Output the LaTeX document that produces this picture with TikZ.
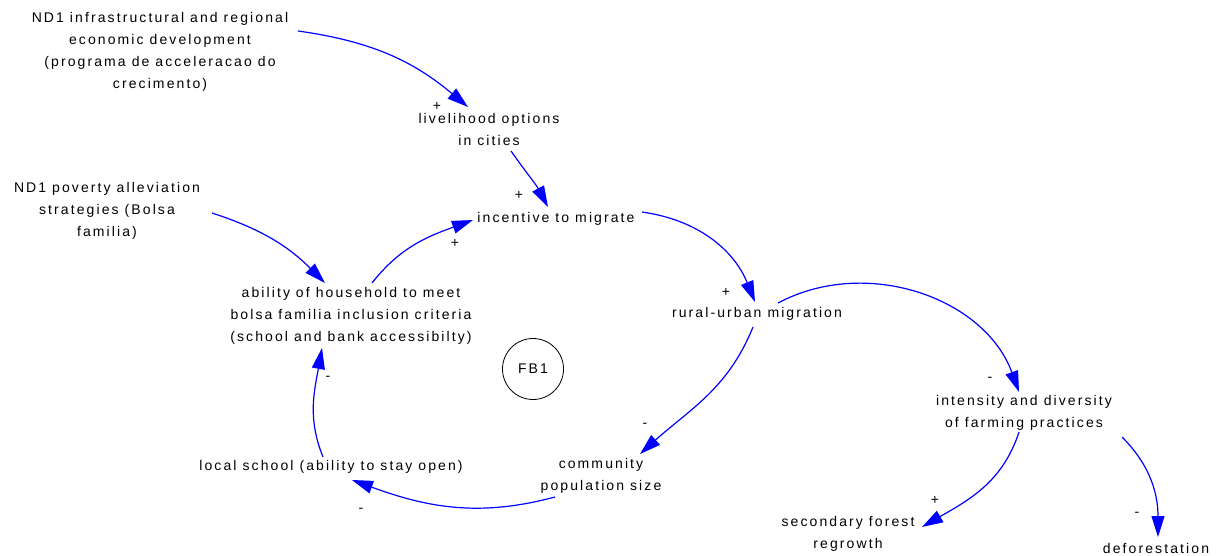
\documentclass[tikz,border=0pt]{standalone}
\usepackage{fontspec}
\setmainfont{Liberation Sans}[LetterSpace=15]
\usetikzlibrary{arrows.meta}
\begin{document}
\begin{tikzpicture}[x=1pt,y=1pt,
  lbl/.style={align=center,inner sep=0pt,font=\fontsize{14}{22}\selectfont},
  sgn/.style={inner sep=0pt,text=black,font=\fontsize{14}{22}\selectfont},
  link/.style={draw=blue,line width=1.2pt,-{Triangle[length=21pt,width=13pt]},blue}]
\useasboundingbox (0,0) rectangle (1216,-556);
\fill[white] (0,0) rectangle (1216,-556);
\node[lbl] (infra) at (160,-52) {ND1 infrastructural and regional\\economic development\\(programa de acceleracao do\\crecimento)};
\node[lbl] (liv) at (489,-129) {livelihood options\\in cities};
\node[lbl] (inc) at (556,-219) {incentive to migrate};
\node[lbl] (pov) at (107,-211) {ND1 poverty alleviation\\strategies (Bolsa\\familia)};
\node[lbl] (abil) at (351,-316) {ability of household to meet\\bolsa familia inclusion criteria\\(school and bank accessibilty)};
\node[lbl] (rural) at (757,-314) {rural-urban migration};
\node[draw,circle,minimum size=61pt,inner sep=0pt,line width=0.8pt,font=\fontsize{14}{22}\selectfont] (fb) at (533,-369) {FB1};
\node[lbl] (inten) at (1024,-413) {intensity and diversity\\of farming practices};
\node[lbl] (school) at (331,-467) {local school (ability to stay open)};
\node[lbl] (comm) at (601,-476) {community\\population size};
\node[lbl] (sec) at (848,-534) {secondary forest\\regrowth};
\node[lbl] (defo) at (1156,-548) {deforestation};

\draw[link] ([shift={(138,21)}]infra.center) to[out=-8,in=140]
  node[sgn,at end,xshift=-31pt,yshift=1pt] {+} ([shift={(-21,22)}]liv.center);
\draw[link] ([shift={(22,-22)}]liv.center) to[out=-55,in=118]
  node[sgn,at end,xshift=-29pt,yshift=12pt] {+} ([shift={(-8,12)}]inc.center);
\draw[link] ([shift={(105,-2)}]pov.center) to[out=-18,in=135] ([shift={(-26,33)}]abil.center);
\draw[link] ([shift={(21,33)}]abil.center) to[out=52,in=200]
  node[sgn,at end,xshift=-18pt,yshift=-23pt] {+} ([shift={(-83,-1)}]inc.center);
\draw[link] ([shift={(86,7)}]inc.center) to[out=-8,in=112]
  node[sgn,at end,xshift=-29pt,yshift=10pt] {+} ([shift={(-2,12)}]rural.center);
\draw[link] ([shift={(21,11)}]rural.center) to[out=28,in=110]
  node[sgn,at end,xshift=-29pt,yshift=13pt] {-} ([shift={(-5,21)}]inten.center);
\draw[link] ([shift={(-4,-13)}]rural.center) to[out=-112,in=42]
  node[sgn,at end,xshift=5pt,yshift=29pt] {-} ([shift={(39,22)}]comm.center);
\draw[link] ([shift={(-46,-21)}]comm.center) to[out=195,in=-20]
  node[sgn,at end,xshift=9pt,yshift=-30pt] {-} ([shift={(21,-13)}]school.center);
\draw[link] ([shift={(-8,10)}]school.center) to[out=112,in=-100]
  node[sgn,at end,xshift=6pt,yshift=-30pt] {-} ([shift={(-29,-32)}]abil.center);
\draw[link] ([shift={(-5,-19)}]inten.center) to[out=-108,in=30]
  node[sgn,at end,xshift=13pt,yshift=27pt] {+} ([shift={(74,7)}]sec.center);
\draw[link] ([shift={(98,-24)}]inten.center) to[out=-45,in=90]
  node[sgn,at end,xshift=-21pt,yshift=23pt] {-} ([shift={(2,11)}]defo.center);
\end{tikzpicture}
\end{document}
